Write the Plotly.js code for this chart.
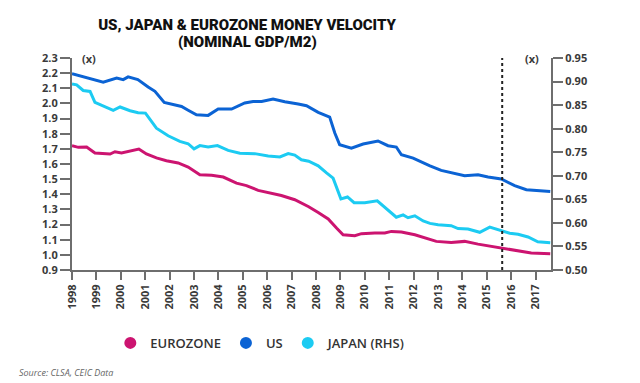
<!DOCTYPE html>
<html>
<head>
<meta charset="utf-8">
<script src="https://cdn.plot.ly/plotly-3.0.1.min.js"></script>
<style>html,body{margin:0;padding:0;background:#fff;}#chart{width:640px;height:383px;}</style>
</head>
<body>
<div id="chart"></div>
<script>
// Eurozone (left axis)
const euroYears = [1998.0,1998.26,1998.6,1998.94,1999.56,1999.76,2000.03,2000.44,2000.74,2001.05,2001.46,2001.87,2002.35,2002.76,2003.24,2003.72,2004.2,2004.74,2005.15,2005.63,2006.17,2006.58,2007.13,2007.7,2008.09,2008.5,2008.84,2009.11,2009.59,2009.86,2010.41,2010.82,2011.09,2011.5,2012.05,2012.59,2012.93,2013.54,2014.09,2014.64,2015.18,2015.73,2016.28,2016.82,2017.6];
const euroValues = [1.721,1.710,1.712,1.673,1.666,1.681,1.673,1.688,1.699,1.666,1.640,1.622,1.607,1.580,1.529,1.525,1.514,1.474,1.457,1.426,1.404,1.392,1.364,1.318,1.280,1.237,1.177,1.133,1.126,1.140,1.144,1.144,1.155,1.151,1.133,1.108,1.089,1.082,1.089,1.071,1.056,1.038,1.023,1.012,1.007];

// US (left axis)
const usYears = [1998.0,1998.67,1999.28,1999.83,2000.1,2000.3,2000.7,2001.12,2001.4,2001.78,2002.2,2002.49,2002.76,2003.1,2003.58,2003.99,2004.54,2005.08,2005.42,2005.77,2006.24,2006.72,2007.27,2007.61,2008.09,2008.56,2008.77,2008.97,2009.45,2009.93,2010.54,2010.95,2011.29,2011.5,2011.98,2012.39,2012.67,2013.13,2013.54,2014.09,2014.64,2015.05,2015.59,2016.14,2016.62,2017.09,2017.6];
const usValues = [2.196,2.168,2.141,2.168,2.157,2.175,2.157,2.108,2.080,2.007,1.990,1.980,1.955,1.925,1.921,1.963,1.963,2.003,2.013,2.013,2.029,2.011,1.996,1.985,1.941,1.910,1.805,1.727,1.705,1.732,1.752,1.721,1.712,1.661,1.639,1.606,1.588,1.558,1.544,1.523,1.529,1.514,1.501,1.457,1.430,1.424,1.419];

// Japan (right axis)
const japanYears = [1998.0,1998.19,1998.46,1998.74,1998.94,1999.35,1999.69,1999.97,2000.38,2000.71,2001.01,2001.46,2001.94,2002.42,2002.76,2003.0,2003.24,2003.58,2003.96,2004.4,2004.88,2005.49,2006.04,2006.52,2006.86,2007.13,2007.4,2007.7,2008.09,2008.43,2008.7,2009.02,2009.29,2009.56,2010.0,2010.51,2010.95,2011.29,2011.57,2011.77,2012.05,2012.39,2012.67,2013.0,2013.54,2013.82,2014.23,2014.71,2015.12,2015.53,2015.94,2016.28,2016.69,2017.09,2017.6];
const japanValues = [0.895,0.893,0.881,0.879,0.856,0.847,0.839,0.846,0.838,0.834,0.833,0.801,0.785,0.773,0.768,0.757,0.764,0.761,0.764,0.754,0.748,0.747,0.742,0.740,0.747,0.744,0.734,0.731,0.721,0.706,0.695,0.651,0.655,0.643,0.643,0.647,0.628,0.612,0.617,0.611,0.615,0.604,0.599,0.596,0.594,0.588,0.587,0.580,0.591,0.584,0.578,0.576,0.570,0.560,0.558];

const yearTicks = [1998,1999,2000,2001,2002,2003,2004,2005,2006,2007,2008,2009,2010,2011,2012,2013,2014,2015,2016,2017];
const yearLabels = yearTicks.map(String);
const seriesNames = ['EUROZONE','US','JAPAN (RHS)'];
const forecastStart = 2015.63;

const colors = ['#cc1470','#0b63d4','#1ccbf2'];
const tickFont = {family:'Open Sans, sans-serif', size:11, color:'#3a3a3a', weight:700};
const titleFont = {family:'Roboto, sans-serif', size:15, color:'#111', weight:900};
const axisGrey = '#6e6e6e';

const traces = [
  {x:euroYears, y:euroValues, type:'scatter', mode:'lines', line:{color:colors[0], width:3}, showlegend:false, hoverinfo:'skip'},
  {x:usYears, y:usValues, type:'scatter', mode:'lines', line:{color:colors[1], width:3}, showlegend:false, hoverinfo:'skip'},
  {x:japanYears, y:japanValues, type:'scatter', mode:'lines', yaxis:'y2', line:{color:colors[2], width:3}, showlegend:false, hoverinfo:'skip'}
];
seriesNames.forEach((n,i)=>{
  traces.push({x:[null], y:[null], type:'scatter', mode:'markers', name:n,
    marker:{color:colors[i], size:16, symbol:'circle'}, showlegend:true});
});

const layout = {
  width:640, height:383,
  margin:{l:72, r:89, t:58, b:113},
  paper_bgcolor:'#fff', plot_bgcolor:'#fff',
  showlegend:true,
  title:{text:'US, JAPAN & EUROZONE MONEY VELOCITY', x:0.386, xref:'container', xanchor:'center',
    y:1-25/383, yref:'container', yanchor:'middle', font:titleFont},
  xaxis:{range:[1998, 2017.63], tickmode:'array', tickvals:yearTicks, ticktext:yearLabels,
    tickangle:-90, ticks:'outside', ticklen:8, tickwidth:2, tickcolor:axisGrey,
    showline:true, linecolor:axisGrey, linewidth:2, showgrid:false, zeroline:false,
    tickfont:tickFont, fixedrange:true},
  yaxis:{range:[0.9, 2.3], dtick:0.1, tick0:0.9, tickformat:'.1f', ticks:'outside', ticklen:10, tickwidth:2,
    tickcolor:axisGrey, showline:true, linecolor:axisGrey, linewidth:2, showgrid:false, zeroline:false,
    tickfont:tickFont, fixedrange:true},
  yaxis2:{range:[0.5, 0.95], dtick:0.05, tick0:0.5, tickformat:'.2f', overlaying:'y', side:'right',
    ticks:'outside', ticklen:10, tickwidth:2, tickcolor:axisGrey, showline:true, linecolor:axisGrey,
    linewidth:2, showgrid:false, zeroline:false, tickfont:tickFont, fixedrange:true},
  legend:{orientation:'h', x:0.08, xanchor:'left', y:-0.344, yanchor:'middle',
    font:{family:'Open Sans, sans-serif', size:13, color:'#333', weight:600}, itemsizing:'constant', itemclick:false},
  shapes:[{type:'line', xref:'x', yref:'paper', x0:forecastStart, x1:forecastStart, y0:0, y1:1,
    line:{color:'#222', width:2, dash:'dot'}}],
  annotations:[
    {text:'(NOMINAL GDP/M2)', xref:'paper', yref:'paper', x:(247-72)/479, y:(270-42)/212,
      xanchor:'center', yanchor:'middle', showarrow:false, font:titleFont},
    {text:'(x)', xref:'paper', yref:'paper', x:(89-72)/479, y:1, xanchor:'center', yanchor:'middle',
      showarrow:false, font:tickFont},
    {text:'(x)', xref:'paper', yref:'paper', x:(532-72)/479, y:1, xanchor:'center', yanchor:'middle',
      showarrow:false, font:tickFont},
    {text:'<i>Source: CLSA, CEIC Data</i>', xref:'paper', yref:'paper', x:(17-72)/479, y:(270-372)/212,
      xanchor:'left', yanchor:'middle', showarrow:false,
      font:{family:'Open Sans, sans-serif', size:9, color:'#666'}}
  ]
};

Plotly.newPlot('chart', traces, layout, {displayModeBar:false, staticPlot:true});
</script>
</body>
</html>
